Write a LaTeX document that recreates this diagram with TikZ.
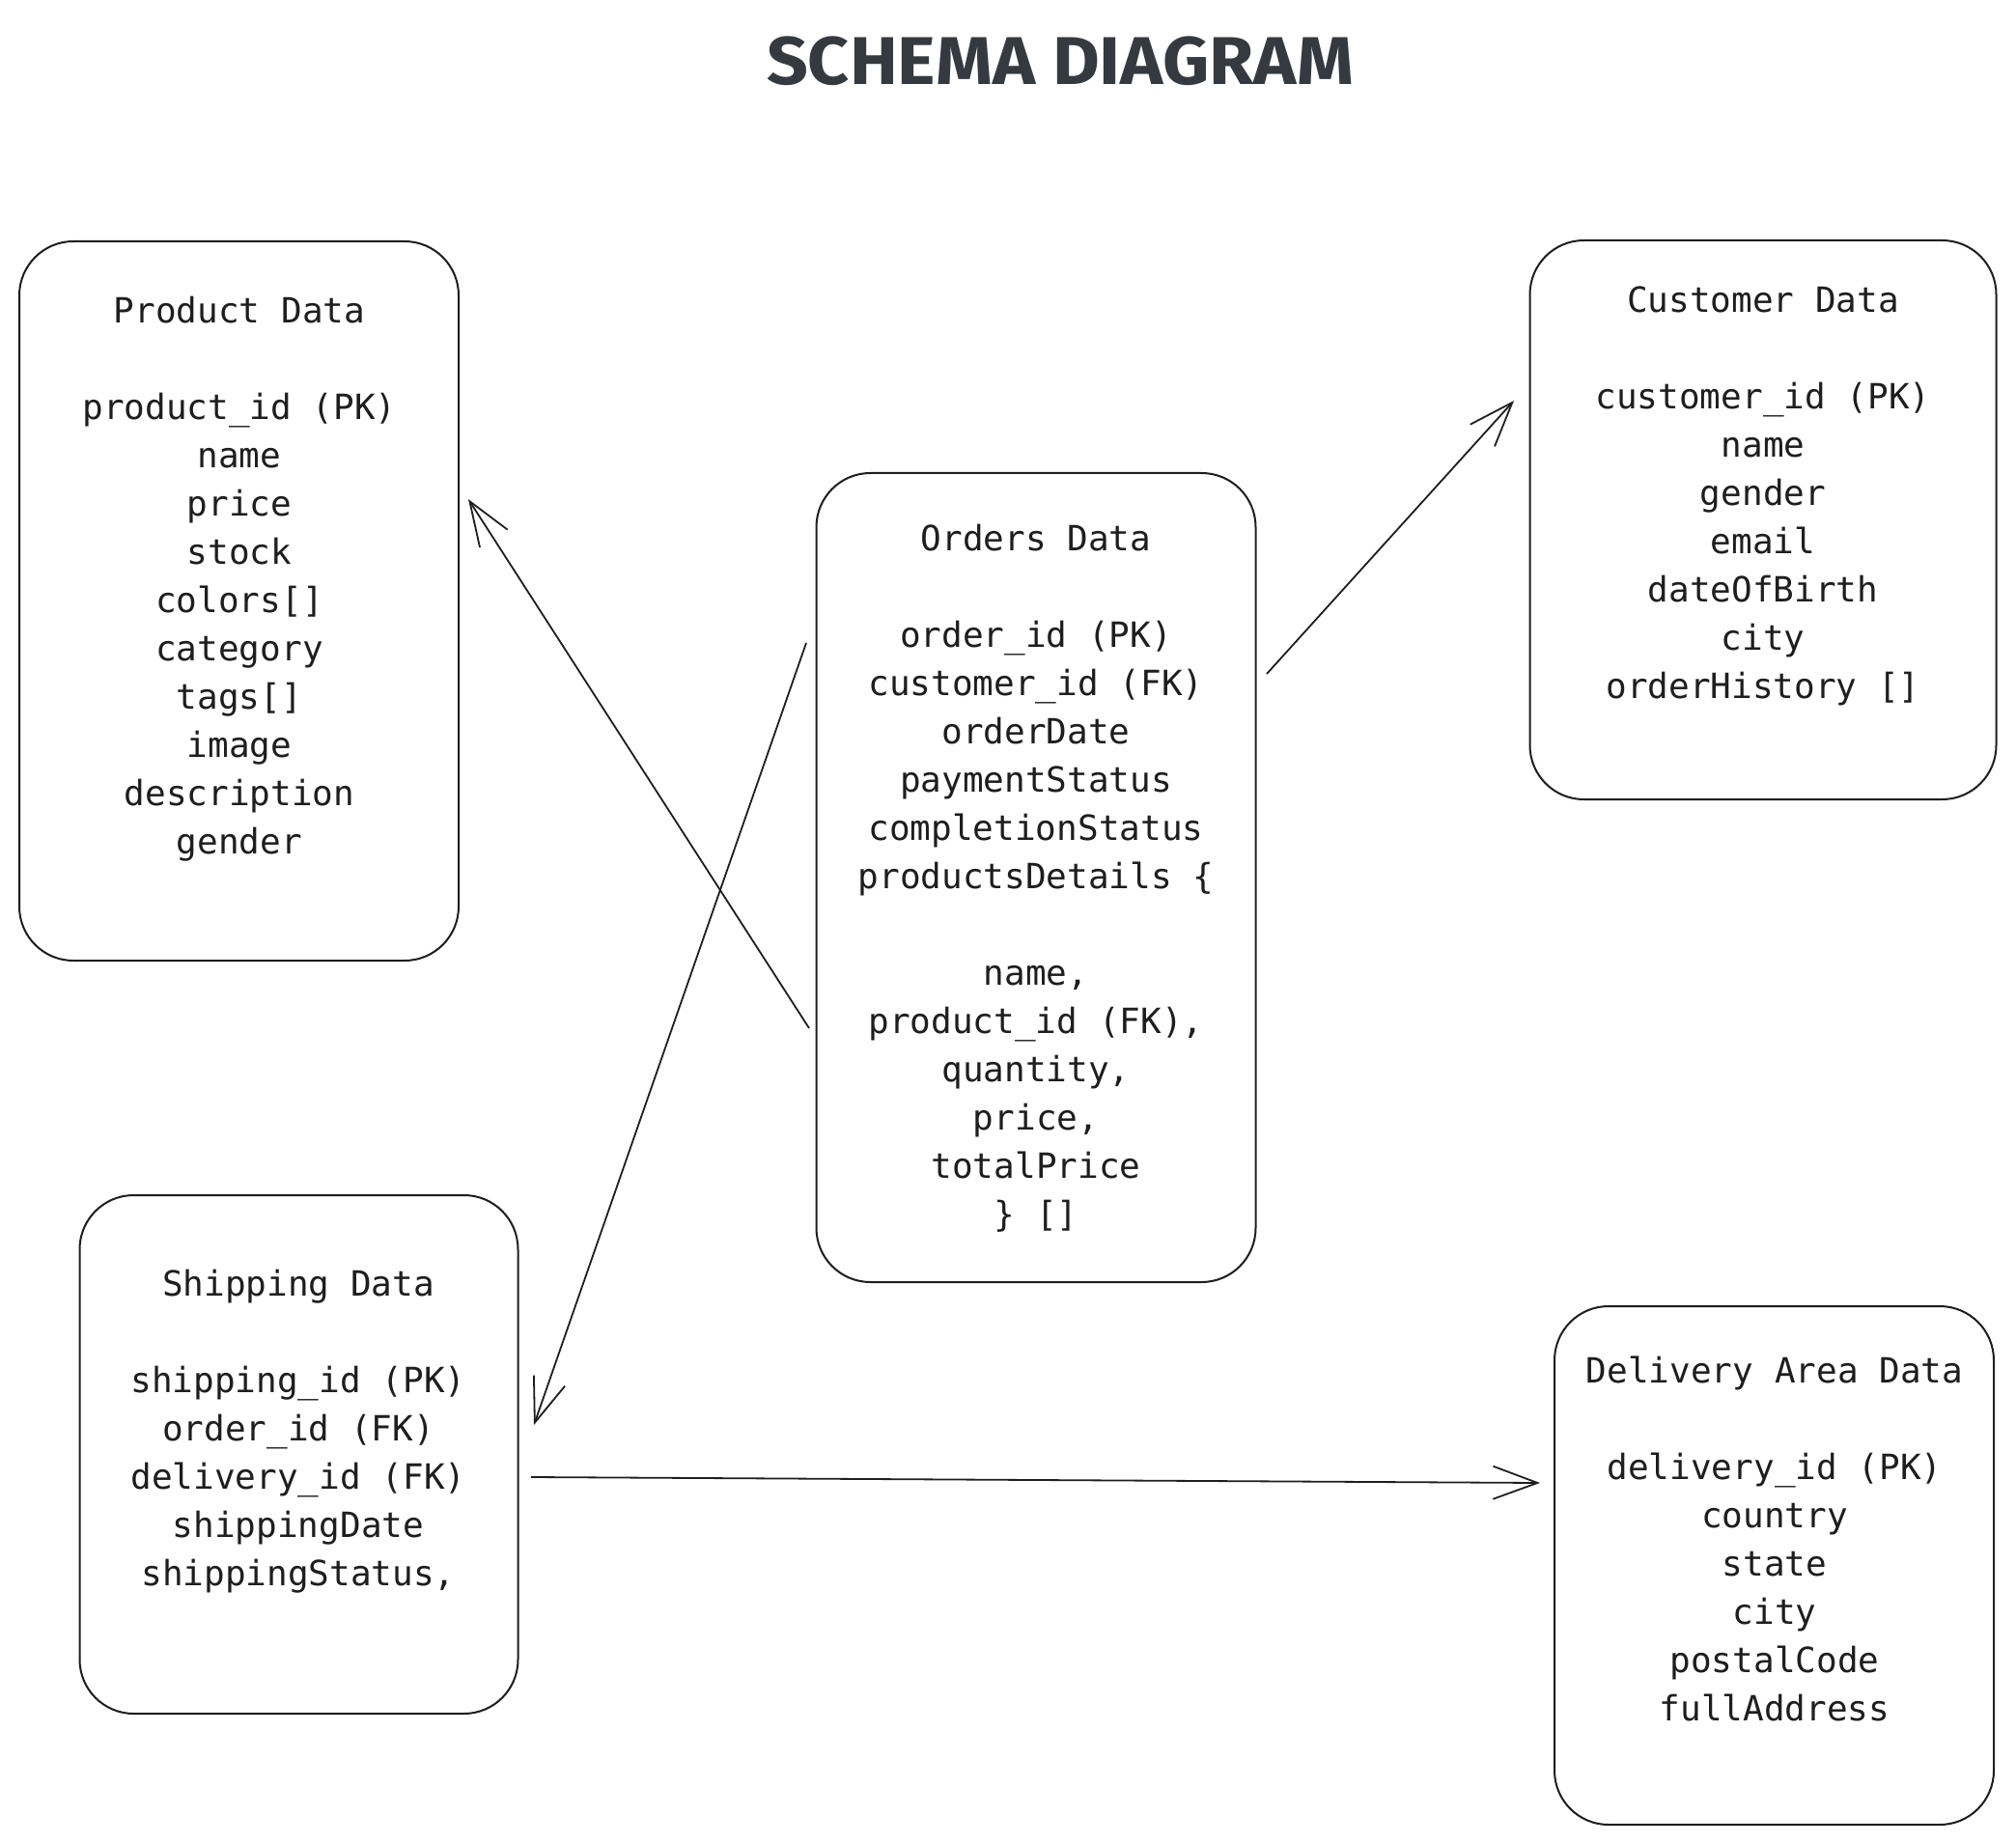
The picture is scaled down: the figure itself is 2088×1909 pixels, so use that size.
\documentclass[tikz,border=0pt]{standalone}
\usepackage{fontspec}
\usepackage{graphicx}
\setmonofont{DejaVu Sans Mono}
\newfontfamily\titlefont{Fira Sans}
\usetikzlibrary{arrows.meta}
\definecolor{ink}{HTML}{1E1E1E}
\definecolor{titleink}{HTML}{343A40}
\tikzset{
  tbox/.style={draw=ink, line width=1pt, rounded corners=28pt, inner sep=0pt},
  ttext/.style={anchor=north, inner sep=0pt, align=center, text=ink,
    font=\ttfamily\fontsize{18}{25}\selectfont},
  link/.style={draw=ink, line width=0.9pt, -{Straight Barb[length=23pt, width=17pt, line width=0.9pt]}}
}
\begin{document}
\begin{tikzpicture}[x=0.5pt, y=-0.5pt]
\useasboundingbox (0,0) rectangle (2088,1909);
\fill[white] (0,0) rectangle (2088,1909);

\node[text=titleink, font=\titlefont\bfseries\fontsize{35}{40}\selectfont] (title) at (1098,63) {\scalebox{1.07}[1]{SCHEMA DIAGRAM}};

% boxes
\node[tbox, minimum width=227.5pt, minimum height=372.5pt] (product) at (247.5,622.5) {};
\node[tbox, minimum width=241.5pt, minimum height=289.5pt] (customer) at (1826,538.5) {};
\node[tbox, minimum width=227.5pt, minimum height=419pt] (orders) at (1073,909) {};
\node[tbox, minimum width=227pt, minimum height=268.5pt] (shipping) at (309.5,1506.5) {};
\node[tbox, minimum width=227.5pt, minimum height=268.5pt] (delivery) at (1837.5,1621.5) {};

% texts
\node[ttext] (producttext) at (248,307) {Product Data\\[25pt]product\_id (PK)\\name\\price\\stock\\colors[]\\category\\tags[]\\image\\description\\gender};
\node[ttext] (customertext) at (1826,296) {Customer Data\\[25pt]customer\_id (PK)\\name\\gender\\email\\dateOfBirth\\city\\orderHistory []};
\node[ttext] (orderstext) at (1073,543) {Orders Data\\[25pt]order\_id (PK)\\customer\_id (FK)\\orderDate\\paymentStatus\\completionStatus\\productsDetails \{\\[25pt]name,\\product\_id (FK),\\quantity,\\price,\\totalPrice\\\} []};
\node[ttext] (shippingtext) at (309,1315) {Shipping Data\\[25pt]shipping\_id (PK)\\order\_id (FK)\\delivery\_id (FK)\\shippingDate\\shippingStatus,};
\node[ttext] (deliverytext) at (1838,1405) {Delivery Area Data\\[25pt]delivery\_id (PK)\\country\\state\\city\\postalCode\\fullAddress};

% connector end points
\coordinate (o1) at (838,1065);
\coordinate (p1) at (485,517);
\coordinate (o2) at (835,666);
\coordinate (s1) at (553,1476);
\coordinate (o3) at (1312,698);
\coordinate (c1) at (1568,415);
\coordinate (s2) at (550,1530);
\coordinate (d1) at (1595,1536);

\draw[link] (o1) -- (p1);
\draw[link] (o2) -- (s1);
\draw[link] (o3) -- (c1);
\draw[link] (s2) -- (d1);
\end{tikzpicture}
\end{document}
